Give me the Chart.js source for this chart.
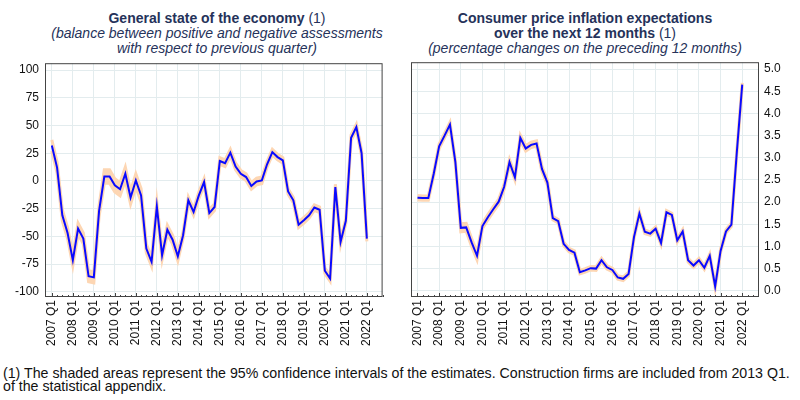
<!DOCTYPE html>
<html>
<head>
<meta charset="utf-8">
<script src="https://cdn.jsdelivr.net/npm/chart.js@4"></script>
<style>
    body { margin: 0; background: #fff; font-family: "Liberation Sans", Arial, sans-serif; }
    #wrap { position: relative; width: 800px; height: 400px; overflow: hidden; }
    canvas { position: absolute; top: 50px; }
    .title { position: absolute; top: 11px; width: 420px; text-align: center; color: #25325a; font-size: 14px; line-height: 15px; }
    .title b { font-weight: bold; }
    .title i { font-style: italic; }
    #note { position: absolute; left: 3px; top: 367px; font-size: 14.2px; line-height: 13px; color: #111; white-space: nowrap; }
</style>
</head>
<body>
<div id="wrap">
    <div class="title" style="left: 7px;"><b>General state of the economy</b> (1)<br><i>(balance between positive and negative assessments<br>with respect to previous quarter)</i></div>
    <div class="title" style="left: 375px;"><b>Consumer price inflation expectations<br>over the next 12 months</b> (1)<br><i>(percentage changes on the preceding 12 months)</i></div>
    <canvas id="economyChart" width="400" height="305" style="left: 0;"></canvas>
    <canvas id="inflationChart" width="400" height="305" style="left: 400px;"></canvas>
    <div id="note">(1) The shaded areas represent the 95% confidence intervals of the estimates. Construction firms are included from 2013 Q1.<br>of the statistical appendix.</div>
</div>
<script>
const years = [2007, 2008, 2009, 2010, 2011, 2012, 2013, 2014, 2015, 2016, 2017, 2018, 2019, 2020, 2021, 2022];

// quarterly values, 2007 Q1 .. 2022 Q1
const economy = [32, 12, -31, -47, -71.5, -43, -52, -86, -87, -27, 4, 4, -4, -7.5, 6.5, -15,
    0.5, -13, -61, -73, -23, -67, -44, -53, -68, -49, -17.5, -28, -13, -1, -29, -23.5,
    18, 16, 25.5, 13, 6.5, 3.5, -4.5, -0.5, 0.5, 15, 26, 21.5, 18.5, -9.5, -17.5, -39.5,
    -35.5, -31, -24, -26, -81, -88, -5.5, -55, -36, 39, 48.5, 25, -52];
const economyCi = [5, 5, 5, 5, 5, 5, 5, 5, 5, 5, 6, 6, 6, 6, 6, 6,
    6, 6, 4, 4, 4, 4, 4, 4, 4, 3, 3, 3, 3, 3, 3, 3,
    3, 3, 3, 3, 3, 3, 3, 3, 3, 2.5, 2.5, 2.5, 2.5, 2.5, 2.5, 2.5,
    2.5, 2.5, 2.5, 2.5, 2.5, 2.5, 2.5, 2.5, 2.5, 2.5, 2.5, 2.5, 2.5];

const inflation = [2.10, 2.09, 2.09, 2.64, 3.26, 3.50, 3.75, 2.90, 1.42, 1.43, 1.09, 0.79, 1.46, 1.66, 1.84, 2.01,
    2.34, 2.90, 2.56, 3.45, 3.21, 3.29, 3.32, 2.75, 2.44, 1.64, 1.57, 1.06, 0.92, 0.86, 0.42, 0.46,
    0.51, 0.50, 0.69, 0.53, 0.47, 0.30, 0.27, 0.38, 1.21, 1.74, 1.33, 1.29, 1.40, 1.08, 1.77, 1.71,
    1.14, 1.34, 0.69, 0.57, 0.69, 0.52, 0.79, 0.10, 0.90, 1.34, 1.49, 3.12, 4.65];
const inflationCi = [0.05, 0.05, 0.05, 0.05, 0.05, 0.05, 0.05, 0.05, 0.09, 0.09, 0.09, 0.09, 0.06, 0.06, 0.06, 0.06,
    0.06, 0.06, 0.06, 0.06, 0.06, 0.06, 0.06, 0.06, 0.06, 0.04, 0.04, 0.04, 0.04, 0.04, 0.04, 0.04,
    0.04, 0.04, 0.04, 0.04, 0.04, 0.04, 0.04, 0.04, 0.04, 0.04, 0.04, 0.04, 0.04, 0.04, 0.04, 0.04,
    0.04, 0.04, 0.04, 0.04, 0.04, 0.04, 0.04, 0.04, 0.04, 0.04, 0.04, 0.04, 0.04];

const economyTicks = [-100, -75, -50, -25, 0, 25, 50, 75, 100];
const inflationTicks = [0, 0.5, 1, 1.5, 2, 2.5, 3, 3.5, 4, 4.5, 5];

const quarterCount = years.length * 4;
const lineColor = '#0a0aff';
const bandColor = '#fdd6b3';
const gridColor = '#e3ecee';
const frameColor = '#444';

function toPoints(values, shift = 0, sign = 0) {
    return values.map((v, i) => ({ x: i, y: v + sign * (shift[i] || 0) }));
}

// plot frame plus the small quarterly ticks inside the bottom edge
const framePlugin = {
    id: 'frame',
    afterDraw(chart) {
        const { ctx, chartArea } = chart;
        const xScale = chart.scales.x;
        ctx.save();
        ctx.strokeStyle = frameColor;
        ctx.lineWidth = 1;
        ctx.strokeRect(chartArea.left + 0.5, chartArea.top + 0.5, chartArea.width - 1, chartArea.height - 1);
        ctx.beginPath();
        for (let q = 0; q < quarterCount; q++) {
            const px = Math.round(xScale.getPixelForValue(q)) + 0.5;
            const len = q % 4 === 0 ? 4 : 2;
            ctx.moveTo(px, chartArea.bottom);
            ctx.lineTo(px, chartArea.bottom - len);
        }
        ctx.stroke();
        ctx.restore();
    }
};

function createPanel(canvasId, values, ci, opts) {
    const canvas = document.getElementById(canvasId);
    const bandEdge = { borderWidth: 3, borderColor: bandColor, pointRadius: 0, tension: 0 };
    return new Chart(canvas, {
        type: 'line',
        data: {
            datasets: [
                { data: toPoints(values), borderColor: lineColor, borderWidth: 2, pointRadius: 0, fill: false, tension: 0 },
                { ...bandEdge, data: toPoints(values, ci, -1), fill: false },
                { ...bandEdge, data: toPoints(values, ci, 1), fill: '-1', backgroundColor: bandColor }
            ]
        },
        options: {
            responsive: false,
            animation: false,
            events: [],
            layout: { padding: opts.padding },
            plugins: { legend: { display: false }, tooltip: { enabled: false } },
            scales: {
                x: {
                    type: 'linear',
                    min: opts.xMin,
                    max: opts.xMax,
                    afterBuildTicks: axis => {
                        axis.ticks = [];
                        for (let q = 0; q < quarterCount; q++) axis.ticks.push({ value: q });
                    },
                    afterFit: axis => { axis.height = 58; },
                    border: { display: false },
                    grid: {
                        drawTicks: false,
                        color: ctx => (ctx.tick && ctx.tick.value % 4 === 0) ? gridColor : 'transparent'
                    },
                    ticks: {
                        autoSkip: false,
                        minRotation: 90,
                        maxRotation: 90,
                        padding: 3,
                        color: '#111',
                        font: { family: 'Liberation Sans', size: 12 },
                        callback: v => v % 4 === 0 ? `${years[v / 4]} Q1` : ''
                    }
                },
                y: {
                    position: opts.yPosition,
                    min: opts.yMin,
                    max: opts.yMax,
                    afterBuildTicks: axis => { axis.ticks = opts.yTicks.map(v => ({ value: v })); },
                    afterFit: axis => { axis.width = opts.yWidth; },
                    border: { display: false },
                    grid: { drawTicks: false, color: gridColor },
                    ticks: {
                        padding: opts.yPadding,
                        color: '#111',
                        font: { family: 'Liberation Sans', size: 12 },
                        callback: opts.yFormat
                    }
                }
            }
        },
        plugins: [framePlugin]
    });
}

createPanel('economyChart', economy, economyCi, {
    padding: { left: 0, right: 11, top: 8, bottom: 0 },
    xMin: -1.3, xMax: 63,
    yPosition: 'left', yMin: -104.7, yMax: 106.2, yTicks: economyTicks,
    yWidth: 45, yPadding: 6,
    yFormat: v => String(v)
});

createPanel('inflationChart', inflation, inflationCi, {
    padding: { left: 11, right: 0, top: 8, bottom: 0 },
    xMin: -1.2, xMax: 63.1,
    yPosition: 'right', yMin: -0.14, yMax: 5.155, yTicks: inflationTicks,
    yWidth: 41, yPadding: 5,
    yFormat: v => v.toFixed(1)
});
</script>
</body>
</html>
